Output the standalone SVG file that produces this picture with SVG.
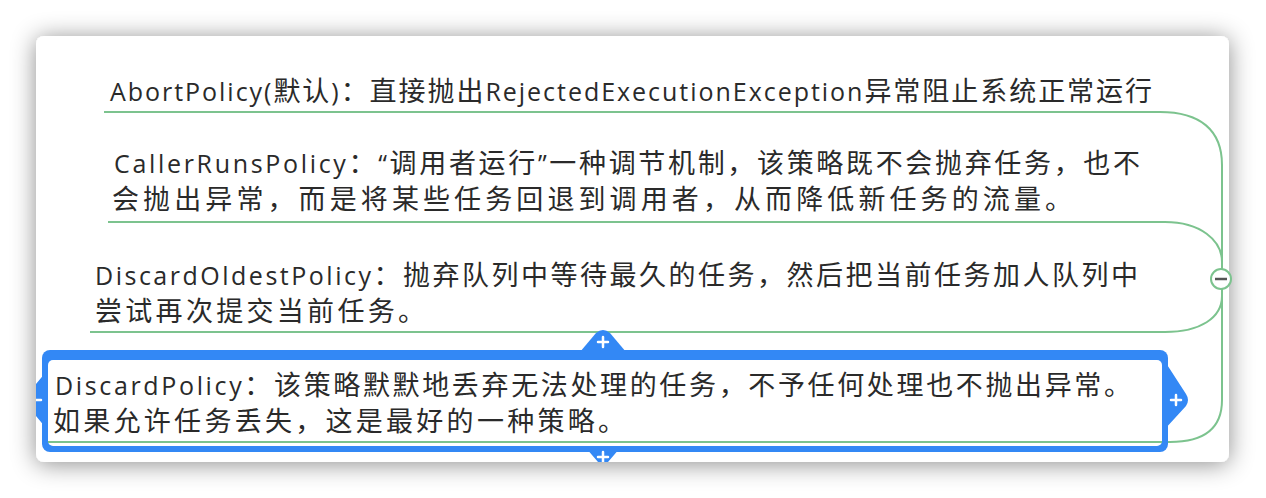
<svg xmlns="http://www.w3.org/2000/svg" width="1266" height="498" viewBox="0 0 1266 498">
  <defs>
    <filter id="shadow" x="-10%" y="-20%" width="120%" height="140%">
      <feDropShadow dx="0" dy="2" stdDeviation="12" flood-color="#000" flood-opacity="0.45"/>
    </filter>
    <clipPath id="cardClip">
      <rect x="36" y="36" width="1193" height="426" rx="8"/>
    </clipPath>
    <style>
      .t { font-family: "Open Sans", "Noto Sans CJK SC", sans-serif; font-size: 25px; fill: #2a2a2a; }
      .c { font-family: "Noto Sans CJK SC", sans-serif; font-size: 27px; }
      .conn { fill: none; stroke: #7cc38e; stroke-width: 2; }
      .sel { fill: #3388f5; }
      .plus { stroke: #fff; stroke-width: 2.5; stroke-linecap: round; }
    </style>
  </defs>

  <rect x="0" y="0" width="1266" height="498" fill="#ffffff"/>
  <rect id="card" x="36" y="36" width="1193" height="426" rx="8" fill="#ffffff" filter="url(#shadow)"/>

  <g id="connectors">
    <path class="conn" d="M1222,279 V165 C1222,130 1200,112 1160,112 H104"/>
    <path class="conn" d="M1222,279 V262 C1222,240 1200,222 1165,222 H108"/>
    <path class="conn" d="M1222,279 V296 C1222,318 1200,332 1165,332 H90"/>
    <path class="conn" d="M1222,279 V400 C1222,428 1205,442 1170,442 H48"/>
  </g>

  <g id="node-abort">
    <text class="t" x="110" y="101" textLength="1042" lengthAdjust="spacing">AbortPolicy(<tspan class="c">默认</tspan>)<tspan class="c">：直接抛出</tspan>RejectedExecutionException<tspan class="c">异常阻止系统正常运行</tspan></text>
  </g>

  <g id="node-callerruns">
    <text class="t" x="114" y="173" textLength="1026" lengthAdjust="spacing">CallerRunsPolicy<tspan class="c">：</tspan>“<tspan class="c">调用者运行</tspan>”<tspan class="c">一种调节机制，该策略既不会抛弃任务，也不</tspan></text>
    <text class="t" x="112" y="209" textLength="960" lengthAdjust="spacing"><tspan class="c">会抛出异常，而是将某些任务回退到调用者，从而降低新任务的流量。</tspan></text>
  </g>

  <g id="node-discardoldest">
    <text class="t" x="95" y="285" textLength="1043" lengthAdjust="spacing">DiscardOldestPolicy<tspan class="c">：抛弃队列中等待最久的任务，然后把当前任务加人队列中</tspan></text>
    <text class="t" x="95" y="321" textLength="330" lengthAdjust="spacing"><tspan class="c">尝试再次提交当前任务。</tspan></text>
  </g>

  <g id="node-discard">
    <g clip-path="url(#cardClip)">
      <path class="sel" d="M580,352 L596,333 Q603,327 610,333 L626,352 Z"/>
      <path class="sel" d="M586,448 L598,462 Q603,468 608,462 L620,448 Z"/>
      <path class="sel" d="M1164,360 L1186,394 Q1190,400 1186,406 L1164,430 Z"/>
      <path class="sel" d="M46,372 L26,396 Q22,400 26,404 L46,428 Z"/>
      <rect class="sel" x="42" y="350" width="1126" height="102" rx="8"/>
      <rect x="48" y="360" width="1114" height="86" rx="5" fill="#ffffff"/>
      <line x1="48" y1="442" x2="1162" y2="442" class="conn"/>
      <line class="plus" x1="598" y1="342" x2="608" y2="342"/>
      <line class="plus" x1="603" y1="337" x2="603" y2="347"/>
      <line class="plus" x1="598" y1="457" x2="608" y2="457"/>
      <line class="plus" x1="603" y1="452" x2="603" y2="462"/>
      <line class="plus" x1="1171" y1="400" x2="1181" y2="400"/>
      <line class="plus" x1="1176" y1="395" x2="1176" y2="405"/>
      <line class="plus" x1="33" y1="400" x2="41" y2="400"/>
    </g>
    <text class="t" x="55" y="395" textLength="1076" lengthAdjust="spacing">DiscardPolicy<tspan class="c">：该策略默默地丢弃无法处理的任务，不予任何处理也不抛出异常。</tspan></text>
    <text class="t" x="53" y="431" textLength="572" lengthAdjust="spacing"><tspan class="c">如果允许任务丢失，这是最好的一种策略。</tspan></text>
  </g>

  <g id="collapse-toggle">
    <circle cx="1221" cy="279" r="10" fill="#ffffff" stroke="#7cc38e" stroke-width="2"/>
    <line x1="1215" y1="279" x2="1227" y2="279" stroke="#555" stroke-width="2.5"/>
  </g>
</svg>
